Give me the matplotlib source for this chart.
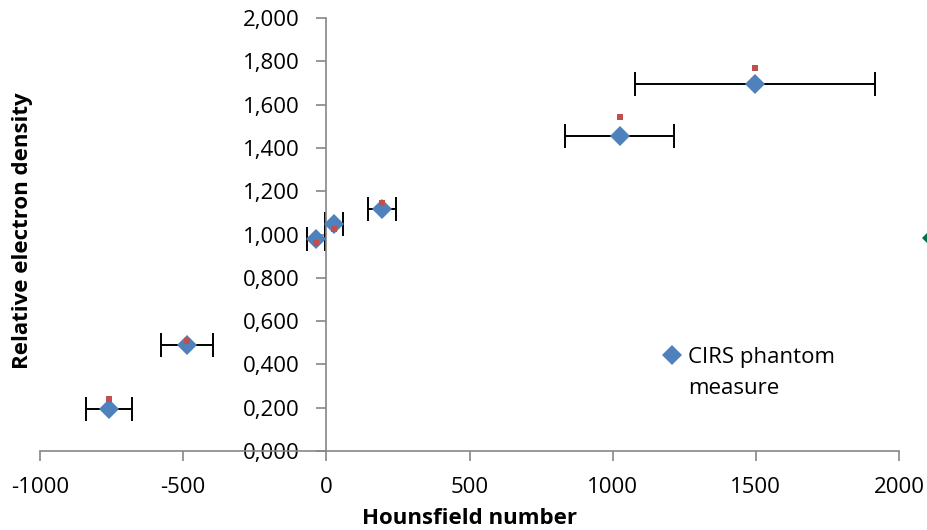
import numpy as np
import matplotlib.pyplot as plt
from matplotlib.lines import Line2D

# CIRS phantom measurements
hu = [-759, -487, -36, 26, 195, 1024, 1497]
hu_err = [80, 90, 30, 31, 48, 190, 418]
rho_measured = [0.193, 0.490, 0.978, 1.048, 1.116, 1.455, 1.695]
rho_nominal = [0.239, 0.509, 0.962, 1.027, 1.144, 1.543, 1.770]

# extra point off the right edge
extra_hu = [2115]
extra_rho = [0.985]

xticks = [-1000, -500, 0, 500, 1000, 1500, 2000]
yticks = [0.0, 0.2, 0.4, 0.6, 0.8, 1.0, 1.2, 1.4, 1.6, 1.8, 2.0]

plt.rcParams['font.family'] = ['Open Sans', 'DejaVu Sans']

fig = plt.figure(figsize=(9.28, 5.30), dpi=100)
ax = fig.add_axes([0.0431, 0.149, 0.9257, 0.817])

ax.errorbar(hu, rho_measured, xerr=hu_err, fmt='none', ecolor='black',
            elinewidth=1.4, capsize=8.5, capthick=1.4, zorder=2)
blue, = ax.plot(hu, rho_measured, 'D', color='#4F81BD', markersize=10,
                markeredgewidth=0, zorder=3)
ax.plot(hu, rho_nominal, 's', color='#C0504D', markersize=5,
        markeredgewidth=0, zorder=4)
ax.plot(extra_hu, extra_rho, 'D', color='#00704A', markersize=10,
        markeredgewidth=0, clip_on=False, zorder=4)

ax.set_xlim(-1000, 2000)
ax.set_ylim(0, 2.0)
ax.set_xticks(xticks)
ax.set_xticklabels([str(t) for t in xticks])
ax.set_yticks(yticks)
ax.set_yticklabels([f"{t:.3f}".replace('.', ',') for t in yticks])

for s in ['top', 'right']:
    ax.spines[s].set_visible(False)
ax.spines['left'].set_position(('data', 0))
for s in ['left', 'bottom']:
    ax.spines[s].set_color('#868686')
    ax.spines[s].set_linewidth(1.2)
ax.tick_params(axis='both', colors='#868686', labelcolor='black',
               labelsize=16, length=7, width=1.2)
ax.tick_params(axis='y', pad=12)
ax.tick_params(axis='x', pad=12)

ax.set_xlabel('Hounsfield number', fontsize=16, fontweight='bold', labelpad=7)
fig.text(0.024, 0.564, 'Relative electron density', rotation=90, fontsize=16,
         fontweight='bold', ha='center', va='center')

spacer = Line2D([], [], linestyle='none')
ax.legend([blue, spacer], ['CIRS phantom', 'measure'], loc='upper left',
          bbox_to_anchor=(0.703, 0.366), bbox_transform=fig.transFigure,
          frameon=False, fontsize=16, handlelength=0.8, handletextpad=0.3,
          labelspacing=0.45, borderpad=0)

fig.savefig('out.png', dpi=100)
